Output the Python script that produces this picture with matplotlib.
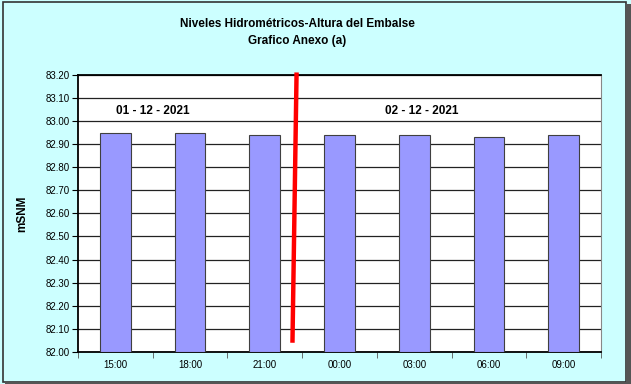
import numpy as np
import matplotlib
matplotlib.use("Agg")
import matplotlib.pyplot as plt
from matplotlib.patches import Rectangle

plt.rcParams['font.family'] = ['Liberation Sans', 'DejaVu Sans']

# data
horas = ["15:00", "18:00", "21:00", "00:00", "03:00", "06:00", "09:00"]
niveles = [82.95, 82.95, 82.94, 82.94, 82.94, 82.93, 82.94]
y_ticks = [82.0 + 0.1 * i for i in range(13)]
fechas = ["01 - 12 - 2021", "02 - 12 - 2021"]
fecha_x = [0.5, 4.1]
fecha_y = 83.045
corte_x = [2.425, 2.37]   # red divider, top/bottom
corte_y = [83.21, 82.04]

fig = plt.figure(figsize=(6.31, 3.84), dpi=100)
fig.patch.set_facecolor('#CCFFFF')
# frame + shadow
fig.patches.append(Rectangle((0.004, 0.004), 0.988, 0.99, transform=fig.transFigure,
                             fill=False, edgecolor='#333333', lw=1.2))
fig.patches.append(Rectangle((0.992, 0.0), 0.008, 0.99, transform=fig.transFigure,
                             facecolor='#555555', edgecolor='none'))
fig.patches.append(Rectangle((0.008, 0.0), 0.992, 0.006, transform=fig.transFigure,
                             facecolor='#555555', edgecolor='none'))

ax = fig.add_axes([0.1236, 0.0833, 0.829, 0.722])
x = np.arange(len(horas))
ax.bar(x, np.array(niveles) - 82.0, bottom=82.0, width=0.41,
       color='#9999FF', edgecolor='#404040', lw=0.8, zorder=3)

ax.set_xlim(-0.5, len(horas) - 0.5)
ax.set_ylim(82.0, 83.2)
ax.set_yticks(y_ticks)
ax.set_yticklabels(["%.2f" % v for v in y_ticks], fontsize=7)
ax.set_xticks(x)
ax.set_xticklabels(horas, fontsize=7)
ax.set_xticks(np.arange(-0.5, len(horas)), minor=True)
ax.tick_params(axis='x', which='major', length=0, pad=6)
ax.tick_params(axis='x', which='minor', length=4, direction='out', color='#555555')
ax.tick_params(axis='y', length=4, direction='out', pad=2)
ax.yaxis.grid(True, color='#222222', lw=0.9, zorder=1)

for s in ['top', 'left', 'bottom']:
    ax.spines[s].set_linewidth(1.3)
ax.spines['right'].set_color('#888888')

ax.plot(corte_x, corte_y, color='#FF0000', lw=3.2, zorder=5, clip_on=False,
        solid_capstyle='butt')

for fx, txt in zip(fecha_x, fechas):
    ax.text(fx, fecha_y, txt, ha='center', va='center', fontsize=8.5,
            fontweight='bold', zorder=6)

ax.set_ylabel("mSNM", fontsize=8.5, fontweight='bold', labelpad=12)

fig.text(0.471, 0.938, "Niveles Hidrométricos-Altura del Embalse", ha='center',
         va='center', fontsize=8.5, fontweight='bold')
fig.text(0.471, 0.893, "Grafico Anexo (a)", ha='center', va='center',
         fontsize=8.5, fontweight='bold')

fig.savefig("out.png", dpi=100, facecolor=fig.get_facecolor())
